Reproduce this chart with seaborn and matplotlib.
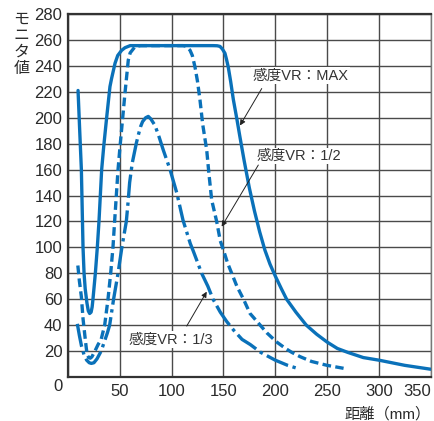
import matplotlib
matplotlib.use("Agg")
import matplotlib.pyplot as plt
import pandas as pd
import seaborn as sns

# Distance (mm) vs. monitor value for three sensitivity settings
max_x = [9.7, 11.3, 12.9, 13.7, 14.5, 15.5, 16.6, 18.3, 19.6, 20.9, 22.3, 23.3, 24.1,
         26.4, 28.3, 29.9, 31.2, 32.5, 34.5, 37.3, 40.5, 42.0, 45.4, 48.0, 51.8, 55.0,
         60.0, 80.0, 100.0, 120.0, 140.0, 144.0, 146.7, 149.0, 151.5, 153.0, 154.7,
         157.0, 159.6, 163.0, 166.0, 170.0, 175.0, 180.0, 185.0, 190.0, 195.0, 200.0,
         206.0, 211.0, 220.0, 230.0, 240.0, 250.0, 260.0, 270.0, 285.0, 300.0, 325.0, 350.0]
max_y = [221, 190, 160, 130, 100, 80, 68, 57, 51, 49, 50, 54, 60,
         80, 100, 120, 140, 160, 178, 200, 224, 230, 242, 248, 252, 254,
         255.6, 255.6, 255.6, 255.6, 255.6, 255.5, 255, 253, 249.7, 245, 239,
         228, 214, 199, 185, 167, 146, 128, 112, 98, 87, 78,
         68, 60, 50, 40, 33, 27, 22, 19, 15, 13, 9, 6]

half_x = [9.5, 11.0, 12.9, 14.5, 16.4, 17.7, 18.6, 20.0, 21.5, 23.0, 26.0, 29.0, 32.0,
          35.4, 38.6, 41.2, 43.4, 45.0, 48.3, 50.2, 55.0, 58.2, 60.0, 64.7, 70.0, 90.0,
          111.0, 113.0, 115.0, 117.8, 120.0, 122.6, 125.0, 127.4, 130.0, 133.9, 136.0,
          138.7, 143.5, 147.0, 150.0, 154.0, 158.0, 163.0, 169.4, 175.7, 185.5, 192.0,
          201.4, 210.0, 216.0, 224.0, 235.0, 250.0, 266.0]
half_y = [86, 74, 62, 45, 31, 22, 17, 15, 14.5, 15.5, 20, 25, 29,
          40, 60, 80, 100, 120, 160, 177.6, 219, 244.5, 250, 254.8, 255.6, 255.6,
          255.6, 255.3, 254.5, 252, 248, 239, 228, 213.7, 195, 175, 157,
          136.5, 120, 105, 98, 88, 80, 70, 60, 49, 40, 34,
          27, 22, 19, 15.7, 12, 9, 6.7]

third_x = [9.0, 11.0, 13.0, 15.5, 18.0, 20.5, 22.5, 25.0, 28.0, 30.0, 32.0, 35.0, 38.0,
           40.2, 44.0, 48.3, 52.0, 56.3, 58.0, 59.5, 62.0, 66.0, 68.0, 70.0, 72.0, 75.0,
           77.5, 80.0, 84.0, 88.0, 92.0, 98.5, 105.0, 111.0, 118.0, 121.0, 129.0, 135.0,
           140.0, 147.0, 153.0, 160.0, 168.0, 176.0, 186.0, 200.0, 212.0, 224.0]
third_y = [41, 32, 24, 17, 13, 11, 10.5, 11, 14, 17, 20, 27, 34,
           40, 60, 80, 100, 120, 135, 150, 165, 180.5, 187, 193, 197, 200,
           201, 199, 194, 185, 175, 160, 142, 121, 103, 97, 80, 70,
           60, 50, 43, 36, 29, 25, 19, 13, 9, 6]

x_ticks = [0, 50, 100, 150, 200, 250, 300, 350]
y_ticks = [0, 20, 40, 60, 80, 100, 120, 140, 160, 180, 200, 220, 240, 260, 280]

labels = ["感度VR：MAX", "感度VR：1/2", "感度VR：1/3"]

sns.set_theme(style="white")
plt.rcParams["font.family"] = ["Liberation Sans", "Noto Sans CJK JP"]

BLUE = "#0a71b9"
W, H = 434, 421

fig = plt.figure(figsize=(W / 100, H / 100), dpi=100)
ax = fig.add_axes([68 / W, 1 - 377 / H, (430.6 - 68) / W, (377 - 14) / H])

series = [
    (max_x, max_y, None),
    (half_x, half_y, (2.6, 1.3)),
    (third_x, third_y, (7.0, 1.4, 1.0, 1.4)),
]
for xs, ys, dash in series:
    df = pd.DataFrame({"distance": xs, "value": ys})
    sns.lineplot(data=df, x="distance", y="value", ax=ax, color=BLUE,
                 linewidth=2.4, sort=False, estimator=None, errorbar=None,
                 zorder=4)
    line = ax.lines[-1]
    line.set_solid_capstyle("round")
    line.set_solid_joinstyle("round")
    if dash is not None:
        line.set_dashes(dash)
        line.set_dash_capstyle("butt")

ax.set_xlim(0, 350)
ax.set_ylim(0, 280)
ax.set_xticks(x_ticks)
ax.set_yticks(y_ticks)
ax.set_xticklabels([""] + [str(v) for v in x_ticks[1:]])
ax.set_yticklabels([""] + [str(v) for v in y_ticks[1:]])
ax.get_xticklabels()[-1].set_horizontalalignment("right")
ax.tick_params(axis="both", length=0, labelsize=12, colors="#2a2a2a")
ax.tick_params(axis="x", pad=5)
ax.tick_params(axis="y", pad=4)
ax.set_xlabel("")
ax.set_ylabel("")
ax.grid(True, color="#4a4a4a", linewidth=1.0, zorder=1)
ax.set_axisbelow(True)

for side in ["left", "bottom", "top"]:
    ax.spines[side].set_color("#333333")
    ax.spines[side].set_linewidth(1.6)
ax.spines["right"].set_color("#777777")
ax.spines["right"].set_linewidth(1.0)

# Curve labels with leader arrows
text_kw = dict(fontsize=10.5, color="#333333", ha="center", va="center", zorder=5,
               bbox=dict(facecolor="white", edgecolor="none", pad=1.0))
ax.text(224, 232.5, labels[0], **text_kw)
ax.text(223, 170.5, labels[1], **text_kw)
ax.text(99.3, 29, labels[2], **text_kw)

arrow_kw = dict(arrowstyle="-|>", color="#222222", lw=0.7, mutation_scale=8,
                shrinkA=0, shrinkB=0)
ax.annotate("", xy=(166, 194), xytext=(187, 222.5), arrowprops=arrow_kw, zorder=6)
ax.annotate("", xy=(148.3, 116), xytext=(183.7, 163.5), arrowprops=arrow_kw, zorder=6)
ax.annotate("", xy=(133.9, 65.8), xytext=(114.6, 39.3), arrowprops=arrow_kw, zorder=6)

# Axis titles and shared origin label
fig.text(21.5 / W, 1 - 43.5 / H, "モ\nニ\nタ\n値", ha="center", va="center",
         fontsize=11.5, linespacing=0.95, color="#2a2a2a",
         family=["Noto Sans CJK JP"])
fig.text(431 / W, 1 - 414 / H, "距離（mm）", ha="right", va="center",
         fontsize=11, color="#2a2a2a")
fig.text(58 / W, 1 - 386.7 / H, "0", ha="center", va="center",
         fontsize=12, color="#2a2a2a")

fig.savefig("out.png", dpi=100, facecolor="white")
